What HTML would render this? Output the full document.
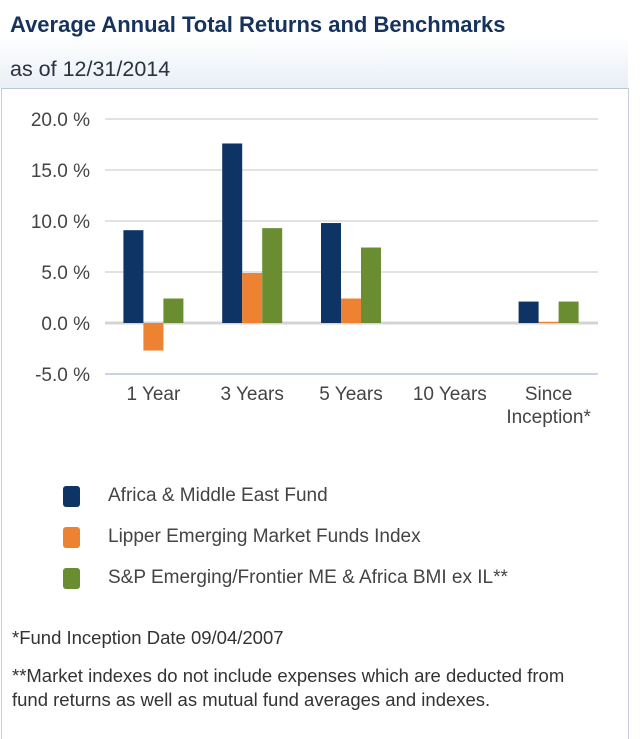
<!DOCTYPE html>
<html><head><meta charset="utf-8"><style>
body{margin:0;width:640px;height:732px;background:#fff;font-family:"Liberation Sans",Arial,sans-serif;overflow:hidden;position:relative}
.hdr{position:absolute;left:0;top:0;width:628px;height:88px;background:linear-gradient(#fff 0%,#fff 40%,#e9eff6 100%)}
.t{position:absolute;left:10px;top:12px;font-size:22px;font-weight:bold;color:#16335e}
.s{position:absolute;left:10px;top:57px;font-size:21.5px;color:#2a3140}
.box{position:absolute;left:1px;top:88px;width:626px;height:650px;border-top:1px solid #b9c7d8;border-left:1px solid #ccd;border-right:1px solid #ccd}
.lg{position:absolute;left:63px;width:17px;height:21px;border-radius:3px}
.lt{position:absolute;left:108px;font-size:19px;color:#444}
.fn{position:absolute;left:12px;font-size:18.5px;color:#333;line-height:24px}
</style></head><body>
<div class="hdr">
<div class="t">Average Annual Total Returns and Benchmarks</div>
<div class="s">as of 12/31/2014</div>
</div>
<div class="box"></div>
<svg id="c" width="640" height="440" style="position:absolute;left:0;top:0"></svg>
<div class="lg" style="top:486px;background:#0d3464"></div>
<div class="lt" style="top:485px">Africa &amp; Middle East Fund</div>
<div class="lg" style="top:527px;background:#ee8233"></div>
<div class="lt" style="top:526px">Lipper Emerging Market Funds Index</div>
<div class="lg" style="top:568px;background:#6a8d32"></div>
<div class="lt" style="top:567px">S&amp;P Emerging/Frontier ME &amp; Africa BMI ex IL**</div>
<div class="fn" style="top:626px">*Fund Inception Date 09/04/2007</div>
<div class="fn" style="top:664px">**Market indexes do not include expenses which are deducted from<br>fund returns as well as mutual fund averages and indexes.</div>
<script>
const categories=["1 Year","3 Years","5 Years","10 Years","Since Inception*"];
const fundValues=[9.1,17.6,9.8,null,2.1];
const lipperValues=[-2.7,4.9,2.4,null,0.1];
const spValues=[2.4,9.3,7.4,null,2.1];
const yTicks=[20,15,10,5,0,-5];
const yTickLabels=["20.0 %","15.0 %","10.0 %","5.0 %","0.0 %","-5.0 %"];
const svg=document.getElementById('c'),NS="http://www.w3.org/2000/svg";
const y=v=>323-v*10.2;
const x0=104,gw=98.8;
function mk(t,a){const e=document.createElementNS(NS,t);for(const k in a)e.setAttribute(k,a[k]);svg.appendChild(e);return e;}
yTicks.forEach((v,i)=>{
const l=mk('line',{x1:105,x2:598,y1:y(v),y2:y(v),stroke:v===0?'#d4d4d4':(v===-5?'#c5d5e6':'#e2e2e2'),'stroke-width':v===0?3:2});


const t=mk('text',{x:90,y:y(v)+7,'text-anchor':'end','font-size':19,fill:'#444','font-family':'Liberation Sans, sans-serif'});
t.textContent=yTickLabels[i];


});
const series=[[fundValues,'#0d3464','fund'],[lipperValues,'#ee8233','lipper'],[spValues,'#6a8d32','sp']];
categories.forEach((c,i)=>{
const cx=x0+gw*(i+0.5);
series.forEach((s,j)=>{
const v=s[0][i];if(v==null)return;
const bx=cx-30+j*20;
const r=mk('rect',{x:bx,y:Math.min(y(v),y(0)),width:20,height:Math.max(Math.abs(y(v)-y(0)),1),fill:s[1]});


});
const parts=c==="Since Inception*"?["Since","Inception*"]:[c];
parts.forEach((p,k)=>{
const t=mk('text',{x:cx,y:400+k*23,'text-anchor':'middle','font-size':19,fill:'#444','font-family':'Liberation Sans, sans-serif'});
t.textContent=p;


});
});
</script>
</body></html>
